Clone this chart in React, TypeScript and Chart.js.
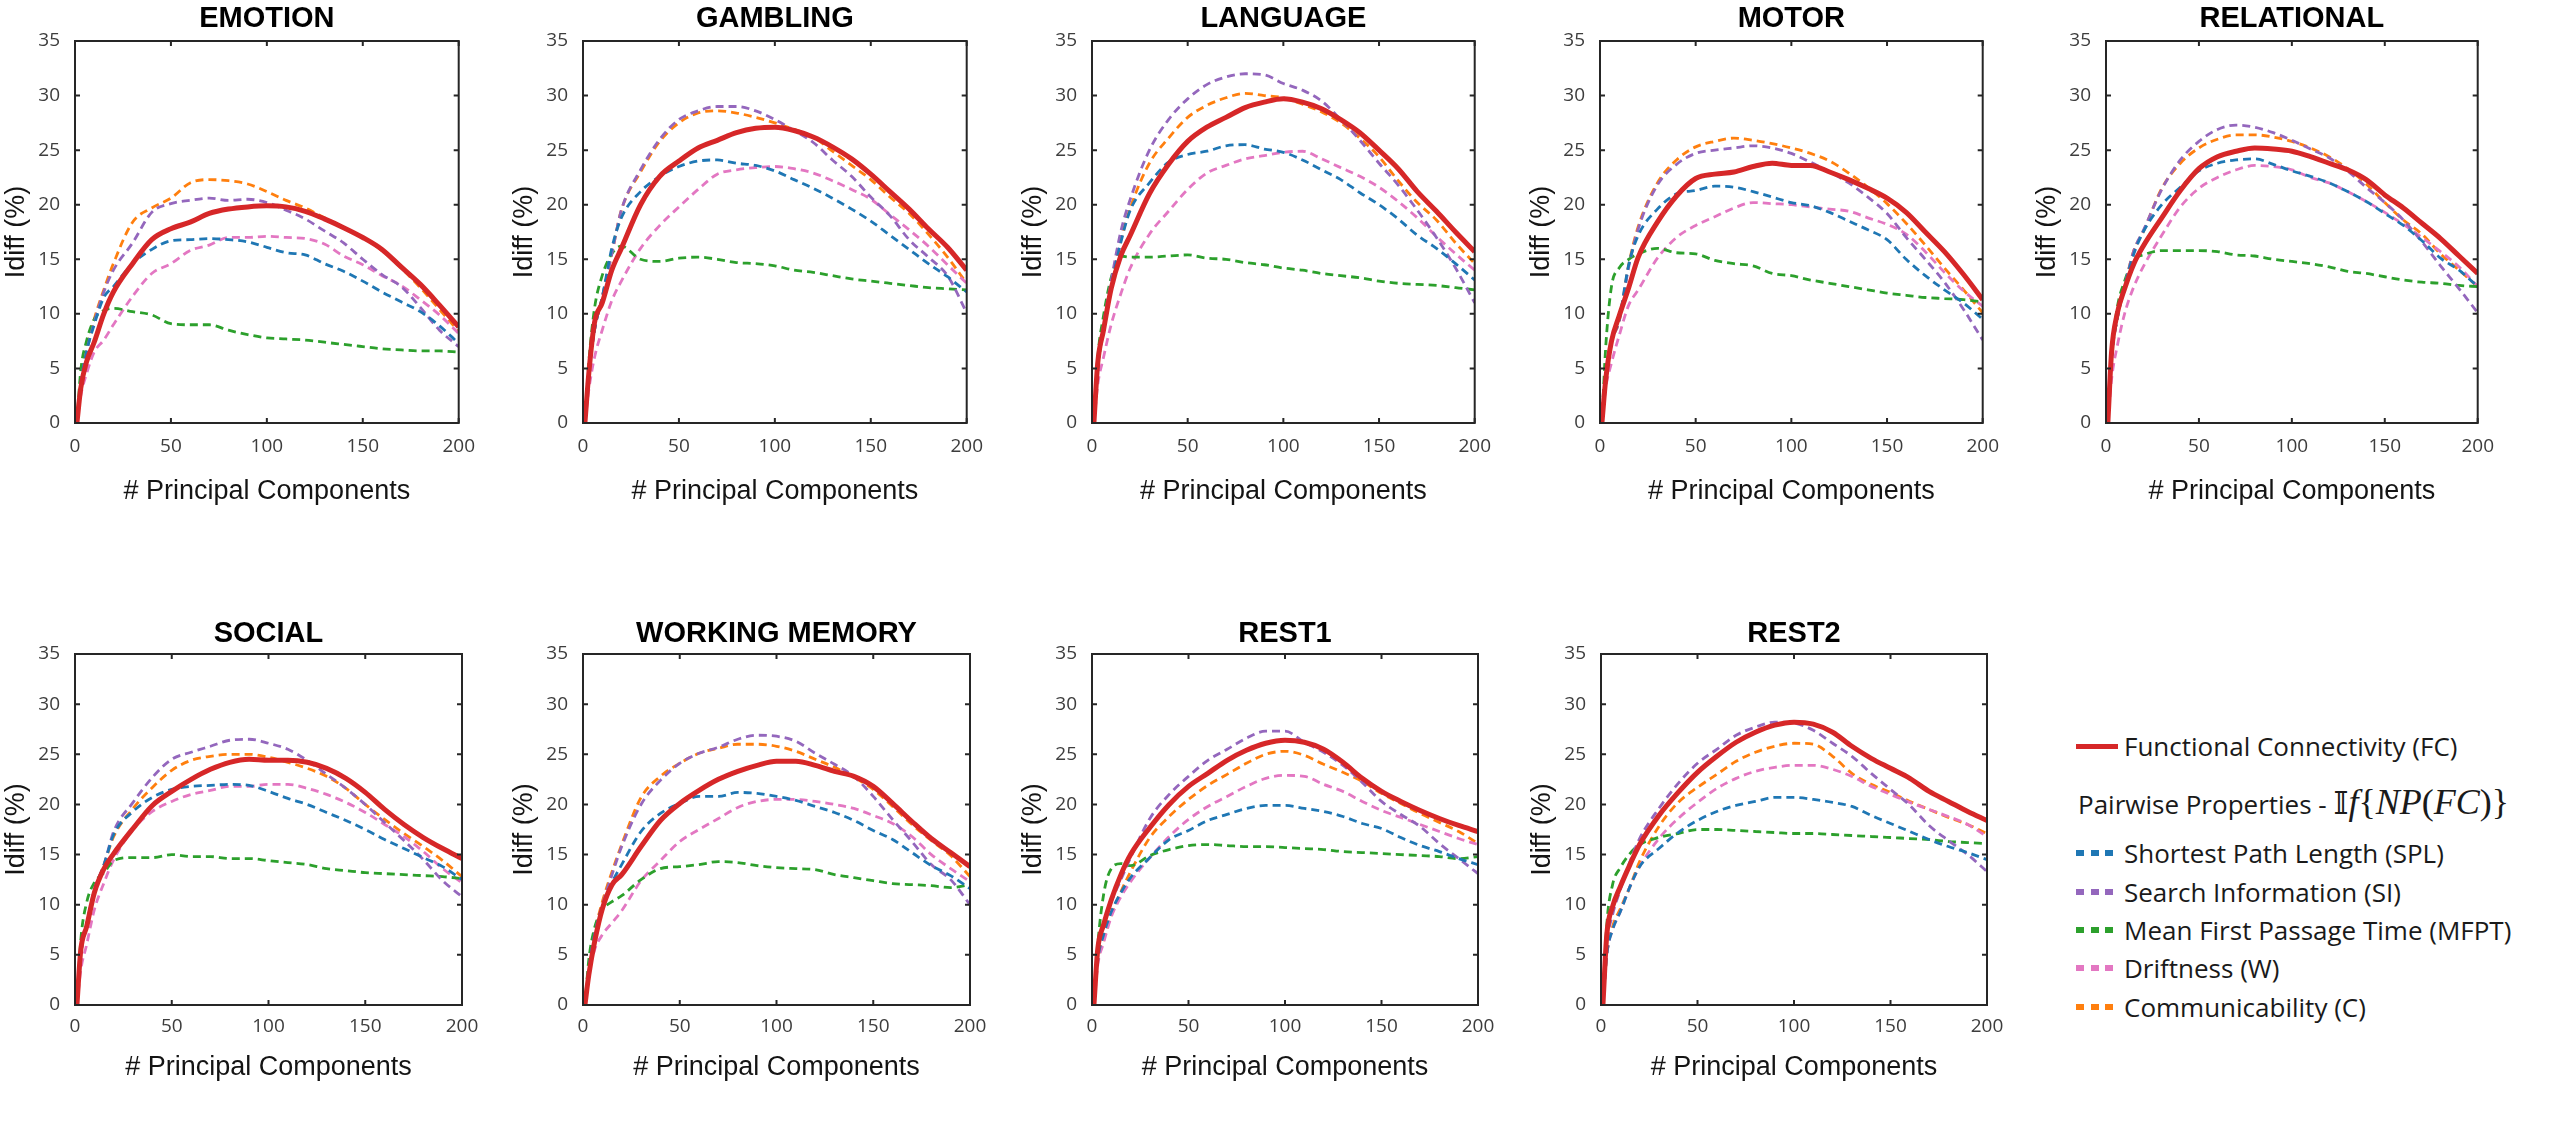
import React, { useEffect, useRef } from "react";
import { Chart, registerables } from "chart.js";

Chart.register(...registerables);

// ---------- data ----------
const PCS = [1, 3, 6, 10, 15, 20, 30, 40, 50, 60, 70, 80, 90, 100, 110, 120, 130, 140, 150, 160, 170, 180, 190, 200];
const X_TICK_STEP = 50;
const Y_TICK_STEP = 5;

const EMOTION_FC = [0, 3.2, 5.6, 7.4, 10, 12, 14.6, 16.8, 17.8, 18.4, 19.2, 19.6, 19.8, 19.9, 19.8, 19.4, 18.7, 17.9, 17.0, 15.9, 14.3, 12.7, 10.8, 8.8];
const EMOTION_SPL = [0, 3.5, 6.5, 9.0, 11.5, 12.5, 14.6, 15.9, 16.7, 16.8, 16.9, 16.8, 16.6, 16.1, 15.6, 15.4, 14.6, 13.9, 13.0, 12.0, 11.1, 10.2, 8.9, 7.3];
const EMOTION_SI = [0, 3.5, 6.5, 9.2, 12, 14, 16.5, 19.3, 20.1, 20.4, 20.6, 20.4, 20.5, 20.2, 19.5, 18.7, 17.6, 16.5, 15.0, 13.6, 12.5, 10.6, 8.5, 7.0];
const EMOTION_MFPT = [0, 4.8, 7.5, 9.5, 10.3, 10.5, 10.2, 9.9, 9.1, 9.0, 9.0, 8.5, 8.1, 7.8, 7.7, 7.6, 7.4, 7.2, 7.0, 6.8, 6.7, 6.6, 6.6, 6.5];
const EMOTION_W = [0, 2.5, 4.5, 6.5, 7.6, 9, 11.6, 13.7, 14.6, 15.8, 16.3, 17.0, 17.0, 17.1, 17.0, 16.9, 16.4, 15.3, 14.5, 13.5, 12.6, 11.3, 9.9, 8.2];
const EMOTION_C = [0, 3.5, 6.7, 9.5, 12.2, 14.6, 18.4, 19.7, 20.6, 22.0, 22.3, 22.2, 21.9, 21.2, 20.4, 19.7, 18.8, 17.9, 17.0, 15.8, 14.2, 12.4, 10.4, 8.4];

const GAMBLING_FC = [0, 4.5, 9.2, 11, 14, 16, 20, 22.6, 24, 25.2, 25.9, 26.6, 27.0, 27.1, 26.8, 26.2, 25.3, 24.2, 22.8, 21.2, 19.6, 17.8, 16.1, 14.0];
const GAMBLING_SPL = [0, 4.5, 8.5, 11.5, 16, 18.8, 21.2, 22.6, 23.5, 24.0, 24.1, 23.8, 23.6, 23.1, 22.3, 21.5, 20.6, 19.6, 18.5, 17.2, 15.9, 14.6, 13.4, 12.0];
const GAMBLING_SI = [0, 4.5, 8.5, 11.5, 15.5, 19.5, 23.2, 26, 27.8, 28.6, 29.0, 29.0, 28.6, 27.8, 26.8, 25.7, 24.1, 22.6, 20.7, 19.0, 16.8, 15.2, 13.5, 10.1];
const GAMBLING_MFPT = [0, 5.5, 10.5, 13.5, 15.5, 16.2, 15.0, 14.8, 15.1, 15.2, 15.0, 14.7, 14.6, 14.4, 14.0, 13.8, 13.5, 13.2, 13.0, 12.8, 12.6, 12.4, 12.3, 12.2];
const GAMBLING_W = [0, 3, 6, 8.5, 11.2, 13, 16, 18.1, 19.8, 21.4, 22.8, 23.2, 23.4, 23.5, 23.3, 22.9, 22.2, 21.4, 20.5, 19.1, 17.7, 16.2, 14.5, 12.8];
const GAMBLING_C = [0, 4.5, 8.5, 11.5, 15.5, 19.5, 23, 25.8, 27.5, 28.4, 28.6, 28.4, 28.0, 27.5, 26.9, 26.2, 24.9, 23.6, 22.3, 20.7, 19.2, 17.3, 15.2, 12.8];

const LANGUAGE_FC = [0, 5.5, 8.5, 12.3, 15.3, 17.2, 21, 23.7, 25.8, 27.1, 28.0, 28.9, 29.4, 29.7, 29.4, 28.8, 27.8, 26.6, 25.0, 23.3, 21.2, 19.4, 17.5, 15.7];
const LANGUAGE_SPL = [0, 5, 8.5, 12.5, 16.5, 19.5, 22, 23.9, 24.6, 24.9, 25.4, 25.5, 25.1, 24.8, 24.1, 23.2, 22.3, 21.1, 20.0, 18.7, 17.2, 16.0, 14.6, 13.1];
const LANGUAGE_SI = [0, 5, 9, 13, 17.5, 20.5, 25, 27.8, 29.7, 31.0, 31.7, 32.0, 31.9, 31.1, 30.5, 29.5, 27.8, 25.9, 23.8, 21.8, 19.5, 17.0, 14.2, 11.0];
const LANGUAGE_MFPT = [0, 6, 9.8, 13.3, 15.3, 15.2, 15.2, 15.3, 15.4, 15.1, 15.0, 14.7, 14.5, 14.2, 14.0, 13.7, 13.5, 13.3, 13.0, 12.8, 12.7, 12.6, 12.4, 12.2];
const LANGUAGE_W = [0, 3.5, 6, 9, 11.8, 14.2, 17.3, 19.4, 21.4, 22.9, 23.6, 24.2, 24.5, 24.8, 24.9, 24.2, 23.4, 22.6, 21.6, 20.3, 18.8, 17.1, 15.5, 14.0];
const LANGUAGE_C = [0, 5, 8.5, 12.5, 16.7, 19.7, 23.8, 26.1, 28.0, 29.1, 29.8, 30.2, 30.0, 29.8, 29.2, 28.5, 27.5, 26.1, 24.4, 22.2, 20.2, 18.6, 16.5, 14.6];

const MOTOR_FC = [0, 4, 7.5, 9.8, 12.4, 15.2, 18.4, 20.8, 22.4, 22.8, 23.0, 23.5, 23.8, 23.6, 23.6, 23.0, 22.3, 21.5, 20.6, 19.3, 17.5, 15.7, 13.6, 11.3];
const MOTOR_SPL = [0, 4.5, 7.5, 9.5, 14.5, 17.2, 19.6, 21.0, 21.3, 21.7, 21.6, 21.2, 20.7, 20.2, 19.9, 19.3, 18.5, 17.7, 16.8, 15.0, 13.5, 12.2, 11.0, 9.5];
const MOTOR_SI = [0, 4.5, 7.5, 9.3, 14.3, 17.8, 21.8, 23.7, 24.7, 25.0, 25.2, 25.4, 25.2, 24.7, 23.9, 23.0, 22.0, 20.7, 19.2, 17.0, 15.0, 12.9, 10.4, 7.6];
const MOTOR_MFPT = [0, 7, 12.5, 14.2, 15.0, 15.5, 16.0, 15.6, 15.5, 14.9, 14.6, 14.4, 13.7, 13.5, 13.1, 12.8, 12.5, 12.2, 11.9, 11.7, 11.5, 11.4, 11.3, 11.1];
const MOTOR_W = [0, 3.2, 5.5, 8, 10.8, 12.2, 15.1, 17.0, 18.1, 18.9, 19.7, 20.2, 20.1, 20.0, 19.8, 19.6, 19.4, 18.8, 18.2, 17.3, 15.7, 13.8, 12.1, 10.7];
const MOTOR_C = [0, 4.5, 7.5, 9.3, 14.5, 18, 22, 24.1, 25.3, 25.8, 26.1, 25.9, 25.6, 25.2, 24.7, 24.0, 22.9, 21.6, 20.1, 18.3, 16.3, 14.2, 12.2, 10.1];

const RELATIONAL_FC = [0, 6.5, 10, 12.3, 14.6, 16.2, 18.8, 21.3, 23.3, 24.4, 24.9, 25.2, 25.1, 24.9, 24.4, 23.8, 23.2, 22.3, 20.9, 19.7, 18.3, 16.9, 15.3, 13.7];
const RELATIONAL_SPL = [0, 6, 9.5, 12.5, 15.5, 17.5, 20, 21.6, 23.1, 23.8, 24.1, 24.2, 23.7, 23.1, 22.6, 22.0, 21.2, 20.3, 19.2, 18.1, 16.7, 15.1, 14.0, 12.5];
const RELATIONAL_SI = [0, 6, 9.5, 12.5, 15.8, 17.6, 21.4, 24.1, 25.8, 26.9, 27.3, 27.1, 26.6, 25.9, 25.1, 24.3, 23.1, 21.6, 20.2, 18.6, 16.6, 14.4, 12.3, 10.1];
const RELATIONAL_MFPT = [0, 6, 10.5, 13, 15, 15.4, 15.8, 15.8, 15.8, 15.7, 15.4, 15.3, 15.0, 14.8, 14.6, 14.3, 13.9, 13.7, 13.4, 13.1, 12.9, 12.8, 12.6, 12.5];
const RELATIONAL_W = [0, 4, 7, 10, 12.5, 14.3, 17.2, 19.8, 21.5, 22.5, 23.2, 23.6, 23.5, 23.2, 22.5, 22.0, 21.2, 20.3, 19.3, 18.2, 17.0, 15.7, 14.3, 12.5];
const RELATIONAL_C = [0, 6, 9.5, 12.5, 15.8, 17.5, 21.5, 23.8, 25.2, 26.0, 26.4, 26.4, 26.2, 25.8, 25.2, 24.4, 23.3, 21.9, 20.2, 18.6, 17.3, 15.5, 14.0, 12.5];

const SOCIAL_FC = [0, 5.5, 7.8, 11.2, 13.6, 15.1, 17.6, 19.9, 21.3, 22.5, 23.5, 24.2, 24.5, 24.4, 24.4, 24.2, 23.6, 22.6, 21.2, 19.5, 18.0, 16.7, 15.6, 14.6];
const SOCIAL_SPL = [0, 5, 8, 11.3, 14, 17.0, 19.3, 20.7, 21.5, 21.8, 21.9, 22.0, 21.9, 21.3, 20.6, 20.0, 19.2, 18.4, 17.5, 16.5, 15.6, 14.7, 13.8, 12.5];
const SOCIAL_SI = [0, 5, 8, 11.5, 14, 17.3, 20.2, 22.7, 24.5, 25.2, 25.8, 26.4, 26.5, 26.1, 25.5, 24.4, 23.0, 21.6, 20.0, 18.2, 16.4, 14.5, 12.4, 10.8];
const SOCIAL_MFPT = [0, 6.5, 10.2, 12.2, 13.2, 14.4, 14.7, 14.7, 15.0, 14.8, 14.8, 14.6, 14.6, 14.4, 14.2, 14.0, 13.6, 13.4, 13.2, 13.1, 13.0, 12.9, 12.8, 12.6];
const SOCIAL_W = [0, 3.5, 6, 9.5, 12.2, 14.5, 17.5, 19.3, 20.3, 21.0, 21.4, 21.8, 21.8, 22.0, 22.0, 21.6, 21.0, 20.2, 19.2, 18.0, 16.8, 15.3, 13.6, 12.2];
const SOCIAL_C = [0, 5, 8, 11.3, 14, 16.8, 19.6, 21.7, 23.4, 24.4, 24.8, 25.0, 25.0, 24.7, 24.2, 23.6, 22.8, 21.6, 20.0, 18.5, 17.1, 15.8, 14.4, 12.8];

const WM_FC = [0, 3, 6.3, 9.6, 12, 13, 15.8, 18.4, 20.1, 21.4, 22.5, 23.3, 23.9, 24.3, 24.3, 23.9, 23.3, 22.8, 21.8, 20.1, 18.3, 16.6, 15.2, 13.8];
const WM_SPL = [0, 3.5, 7, 9.8, 12.2, 14.0, 17.3, 19.1, 20.1, 20.8, 20.8, 21.2, 21.1, 20.8, 20.4, 19.8, 19.2, 18.4, 17.4, 16.5, 15.2, 13.9, 12.9, 11.6];
const WM_SI = [0, 3.5, 7, 10, 13, 15.8, 20, 22.4, 24.1, 25.1, 25.7, 26.5, 26.9, 26.8, 26.3, 25.1, 24.0, 22.8, 20.8, 18.5, 16.3, 14.0, 12.5, 10.0];
const WM_MFPT = [0, 4.5, 7.7, 9.5, 10.3, 10.9, 12.5, 13.6, 13.8, 14.0, 14.3, 14.2, 13.9, 13.7, 13.6, 13.5, 13.0, 12.7, 12.4, 12.1, 12.0, 11.9, 11.7, 12.0];
const WM_W = [0, 3, 5.5, 7, 8.2, 9.4, 12.4, 14.4, 16.3, 17.5, 18.6, 19.7, 20.3, 20.5, 20.5, 20.3, 20.0, 19.6, 18.9, 18.1, 16.8, 15.0, 13.6, 12.3];
const WM_C = [0, 3.5, 7.2, 10.3, 13.3, 16.0, 20.7, 22.8, 24.1, 25.1, 25.6, 26.0, 26.0, 25.8, 25.3, 24.5, 23.7, 22.7, 21.5, 19.8, 18.0, 16.4, 14.9, 12.8];

const REST1_FC = [0, 5.6, 8, 10.5, 13, 15, 17.7, 20, 21.8, 23.1, 24.4, 25.4, 26.1, 26.4, 26.2, 25.5, 24.2, 22.6, 21.3, 20.3, 19.4, 18.6, 17.9, 17.3];
const REST1_SPL = [0, 4.5, 7, 9.3, 11.2, 12.7, 14.7, 16.5, 17.4, 18.4, 19.0, 19.6, 19.9, 19.9, 19.6, 19.3, 18.8, 18.1, 17.6, 16.7, 15.9, 15.3, 14.6, 14.0];
const REST1_SI = [0, 5, 7.8, 10.3, 12.5, 14.7, 18.6, 21.0, 22.8, 24.4, 25.5, 26.6, 27.3, 27.3, 26.2, 25.2, 23.9, 22.2, 20.3, 19.0, 17.8, 16.1, 14.6, 13.1];
const REST1_MFPT = [0, 6, 11, 13.6, 14.1, 13.9, 14.9, 15.5, 15.9, 16.0, 15.9, 15.8, 15.8, 15.7, 15.6, 15.5, 15.3, 15.2, 15.1, 15.0, 14.9, 14.8, 14.6, 14.8];
const REST1_W = [0, 4, 6.2, 8.8, 10.8, 12.3, 14.7, 16.8, 18.5, 19.8, 20.8, 21.8, 22.6, 22.9, 22.8, 22.0, 21.3, 20.3, 19.4, 18.7, 18.0, 17.3, 16.6, 16.0];
const REST1_C = [0, 4.3, 6.5, 9, 11.3, 13.3, 16.7, 18.8, 20.5, 21.9, 23.0, 24.1, 25.0, 25.3, 24.9, 24.0, 23.2, 22.3, 21.1, 20.1, 19.1, 18.2, 17.3, 16.1];

const REST2_FC = [0, 7, 9.8, 11.8, 14, 16, 18.9, 21.2, 23.2, 24.8, 26.2, 27.2, 27.9, 28.2, 28.0, 27.2, 25.8, 24.6, 23.6, 22.6, 21.3, 20.3, 19.3, 18.4];
const REST2_SPL = [0, 5, 7.5, 9.3, 11.8, 13.8, 15.6, 17.2, 18.4, 19.3, 19.9, 20.3, 20.7, 20.7, 20.5, 20.2, 19.8, 18.9, 18.1, 17.3, 16.5, 15.8, 15.2, 14.5];
const REST2_SI = [0, 6, 9, 11.5, 14.3, 16.6, 19.6, 22.1, 24.1, 25.5, 26.9, 27.7, 28.2, 28.1, 27.4, 26.1, 24.8, 23.1, 21.5, 19.9, 17.9, 16.4, 15.0, 13.3];
const REST2_MFPT = [0, 8, 12, 13.7, 15.1, 16, 16.7, 17.1, 17.5, 17.5, 17.4, 17.3, 17.2, 17.1, 17.1, 17.0, 16.9, 16.8, 16.7, 16.6, 16.5, 16.3, 16.2, 16.1];
const REST2_W = [0, 5, 7.5, 9.3, 11.8, 13.8, 16.6, 18.6, 20.2, 21.6, 22.6, 23.3, 23.7, 23.9, 23.9, 23.5, 22.8, 21.8, 21.0, 20.2, 19.5, 18.8, 18.0, 16.8];
const REST2_C = [0, 5, 7.8, 9.6, 11.8, 14.3, 17.8, 20.2, 21.7, 23.0, 24.3, 25.2, 25.8, 26.1, 26.0, 24.8, 23.1, 22.0, 21.2, 20.3, 19.5, 18.7, 18.0, 17.1];

// ---------- styling ----------
const SERIES = [
  { label: "Functional Connectivity (FC)", color: "#d62728", width: 5, dash: [] as number[] },
  { label: "Shortest Path Length (SPL)", color: "#1f77b4", width: 2.8, dash: [8, 5] },
  { label: "Search Information (SI)", color: "#9467bd", width: 2.8, dash: [8, 5] },
  { label: "Mean First Passage Time (MFPT)", color: "#2ca02c", width: 2.8, dash: [8, 5] },
  { label: "Driftness (W)", color: "#e377c2", width: 2.8, dash: [8, 5] },
  { label: "Communicability (C)", color: "#ff7f0e", width: 2.8, dash: [8, 5] },
];

const ROWS = [
  { plotTop: 41, plotH: 382, titleTop: 4, titleBottom: 8, xTickPad: 12, xTitlePad: 8 },
  { plotTop: 654, plotH: 351, titleTop: 6, titleBottom: 6, xTickPad: 10, xTitlePad: 13.5 },
];

const TITLE_BLOCK = 41;
const Y_AXIS_W = 75;
const X_AXIS_H = 90;
const RIGHT_PAD = 28;

const PANELS = [
  { title: "EMOTION", row: 0, left: 75, w: 384, data: [EMOTION_FC, EMOTION_SPL, EMOTION_SI, EMOTION_MFPT, EMOTION_W, EMOTION_C] },
  { title: "GAMBLING", row: 0, left: 583, w: 384, data: [GAMBLING_FC, GAMBLING_SPL, GAMBLING_SI, GAMBLING_MFPT, GAMBLING_W, GAMBLING_C] },
  { title: "LANGUAGE", row: 0, left: 1092, w: 383, data: [LANGUAGE_FC, LANGUAGE_SPL, LANGUAGE_SI, LANGUAGE_MFPT, LANGUAGE_W, LANGUAGE_C] },
  { title: "MOTOR", row: 0, left: 1600, w: 383, data: [MOTOR_FC, MOTOR_SPL, MOTOR_SI, MOTOR_MFPT, MOTOR_W, MOTOR_C] },
  { title: "RELATIONAL", row: 0, left: 2106, w: 372, data: [RELATIONAL_FC, RELATIONAL_SPL, RELATIONAL_SI, RELATIONAL_MFPT, RELATIONAL_W, RELATIONAL_C] },
  { title: "SOCIAL", row: 1, left: 75, w: 387, data: [SOCIAL_FC, SOCIAL_SPL, SOCIAL_SI, SOCIAL_MFPT, SOCIAL_W, SOCIAL_C] },
  { title: "WORKING MEMORY", row: 1, left: 583, w: 387, data: [WM_FC, WM_SPL, WM_SI, WM_MFPT, WM_W, WM_C] },
  { title: "REST1", row: 1, left: 1092, w: 386, data: [REST1_FC, REST1_SPL, REST1_SI, REST1_MFPT, REST1_W, REST1_C] },
  { title: "REST2", row: 1, left: 1601, w: 386, data: [REST2_FC, REST2_SPL, REST2_SI, REST2_MFPT, REST2_W, REST2_C] },
];

const TICK_FONT = { family: "'Open Sans', sans-serif", size: 19 };
const TICK_COLOR = "#3d3d3d";
const AXIS_TITLE_FONT = { family: "'Liberation Sans', Arial, sans-serif", size: 27, lineHeight: 1 };
const AXIS_TITLE_COLOR = "#141414";

const framePlugin = {
  id: "matlabFrame",
  afterDatasetsDraw(chart: any) {
    const { ctx, chartArea: a, scales } = chart;
    ctx.save();
    ctx.strokeStyle = "#262626";
    ctx.lineWidth = 2;
    ctx.beginPath();
    for (const t of scales.x.ticks) {
      const px = scales.x.getPixelForValue(t.value);
      ctx.moveTo(px, a.bottom);
      ctx.lineTo(px, a.bottom - 5);
      ctx.moveTo(px, a.top);
      ctx.lineTo(px, a.top + 5);
    }
    for (const t of scales.y.ticks) {
      const py = scales.y.getPixelForValue(t.value);
      ctx.moveTo(a.left, py);
      ctx.lineTo(a.left + 5, py);
      ctx.moveTo(a.right, py);
      ctx.lineTo(a.right - 5, py);
    }
    ctx.stroke();
    ctx.strokeRect(a.left, a.top, a.right - a.left, a.bottom - a.top);
    ctx.restore();
  },
};

function Panel({ p }: { p: (typeof PANELS)[number] }) {
  const ref = useRef<HTMLCanvasElement>(null);
  const row = ROWS[p.row];
  const cw = Y_AXIS_W + p.w + RIGHT_PAD;
  const ch = TITLE_BLOCK + row.plotH + X_AXIS_H;
  useEffect(() => {
    if (!ref.current) return;
    const chart = new Chart(ref.current, {
      type: "line",
      data: {
        datasets: SERIES.map((s, i) => ({
          label: s.label,
          data: PCS.map((x, j) => ({ x, y: p.data[i][j] })),
          borderColor: s.color,
          backgroundColor: s.color,
          borderWidth: s.width,
          borderDash: s.dash,
          borderCapStyle: "butt",
          pointRadius: 0,
          fill: false,
          cubicInterpolationMode: "monotone",
        })),
      },
      options: {
        responsive: false,
        animation: false,
        devicePixelRatio: 1,
        events: [],
        layout: { padding: { left: 0, right: RIGHT_PAD, top: 0, bottom: 0 } },
        plugins: {
          legend: { display: false },
          tooltip: { enabled: false },
          title: {
            display: true,
            text: p.title,
            fullSize: false,
            color: "#000",
            font: { family: "'Liberation Sans', Arial, sans-serif", size: 29, weight: "bold", lineHeight: 1 },
            padding: { top: row.titleTop, bottom: row.titleBottom },
          },
        },
        scales: {
          x: {
            type: "linear",
            min: 0,
            max: 200,
            grid: { display: false, drawTicks: false, tickLength: 0 },
            border: { display: false },
            ticks: { stepSize: X_TICK_STEP, padding: row.xTickPad, font: TICK_FONT, color: TICK_COLOR, maxRotation: 0, autoSkip: false },
            title: { display: true, text: "# Principal Components", font: AXIS_TITLE_FONT, color: AXIS_TITLE_COLOR, padding: { top: 0, bottom: row.xTitlePad } },
            afterFit: (s: any) => { s.height = X_AXIS_H; },
          },
          y: {
            type: "linear",
            min: 0,
            max: 35,
            grid: { display: false, drawTicks: false, tickLength: 0 },
            border: { display: false },
            ticks: { stepSize: Y_TICK_STEP, padding: 15, font: TICK_FONT, color: TICK_COLOR, autoSkip: false },
            title: { display: true, text: "Idiff (%)", font: AXIS_TITLE_FONT, color: AXIS_TITLE_COLOR, padding: { top: 3, bottom: 0 } },
            afterFit: (s: any) => { s.width = Y_AXIS_W; },
          },
        },
      },
      plugins: [framePlugin],
    } as any);
    return () => chart.destroy();
  }, []);
  return (
    <canvas
      ref={ref}
      width={cw}
      height={ch}
      style={{ position: "absolute", left: p.left - Y_AXIS_W, top: row.plotTop - TITLE_BLOCK, width: cw, height: ch }}
    />
  );
}

const LEGEND_FONT = "'Open Sans', sans-serif";
const LEGEND_ROWS = [853, 892, 930, 968, 1007];

function DashMarker({ color, y }: { color: string; y: number }) {
  return (
    <>
      {[0, 14.5, 29].map((dx) => (
        <div key={dx} style={{ position: "absolute", left: 2076 + dx, top: y - 3, width: 8, height: 6, background: color }} />
      ))}
    </>
  );
}

export default function App() {
  const textStyle = (y: number, x: number): React.CSSProperties => ({
    position: "absolute",
    left: x,
    top: y - 13,
    height: 26,
    lineHeight: "26px",
    fontFamily: LEGEND_FONT,
    fontSize: 26,
    color: "#1a1a1a",
    whiteSpace: "nowrap",
  });
  return (
    <div style={{ position: "absolute", left: 0, top: 0, width: 2560, height: 1134, background: "#fff", overflow: "hidden" }}>
      {PANELS.map((p) => (
        <Panel key={p.title} p={p} />
      ))}
      <div style={{ position: "absolute", left: 2076, top: 746 - 2.5, width: 42, height: 5, background: SERIES[0].color }} />
      <div style={textStyle(746, 2124)}>{SERIES[0].label}</div>
      <div style={textStyle(802, 2078)}>
        Pairwise Properties -{" "}
        <span style={{ fontFamily: "'DejaVu Serif', 'DejaVu Sans', serif", fontSize: 32 }}>𝕀</span>
        <span style={{ fontFamily: "'Liberation Serif', serif", fontSize: 36 }}>
          <i>f</i>
          {"{"}
          <i>NP</i>(<i>FC</i>)
          {"}"}
        </span>
      </div>
      {SERIES.slice(1).map((s, i) => (
        <React.Fragment key={s.label}>
          <DashMarker color={s.color} y={LEGEND_ROWS[i]} />
          <div style={textStyle(LEGEND_ROWS[i], 2124)}>{s.label}</div>
        </React.Fragment>
      ))}
    </div>
  );
}
